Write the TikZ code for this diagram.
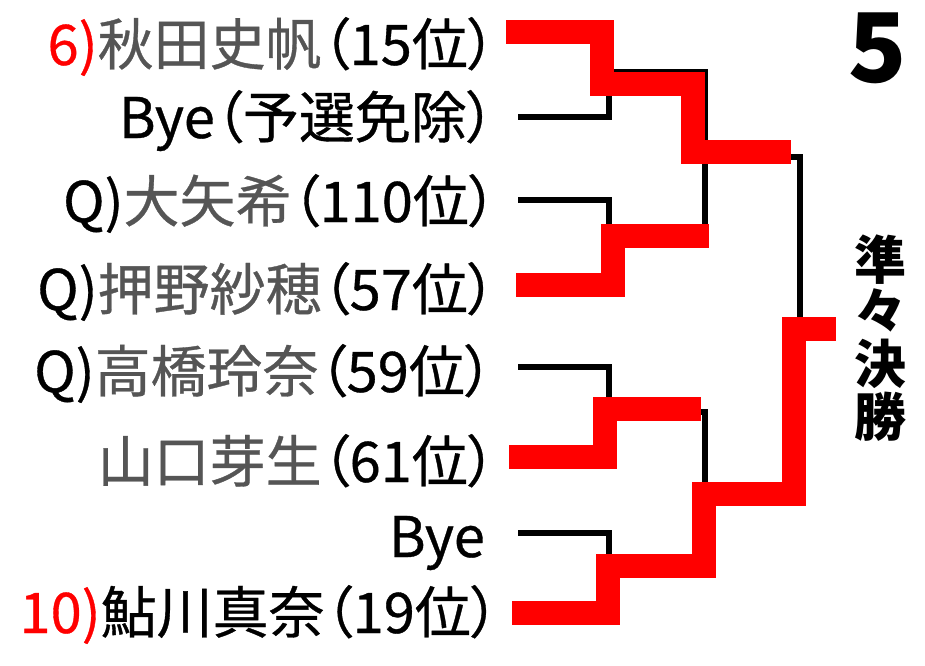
\documentclass[tikz,border=0pt]{standalone}
\usepackage{fontspec}
\newfontfamily\jp{Noto Sans CJK JP}[RawFeature=+palt,FakeBold=0.6]
\newfontfamily\jpb{Noto Sans CJK JP}[RawFeature=+palt]
\definecolor{nm}{RGB}{85,85,85}
\definecolor{win}{RGB}{255,0,0}
\begin{document}
\begin{tikzpicture}[x=1pt,y=-1pt,
  lbl/.style={anchor=base east, inner sep=0pt, font=\jp\fontsize{56}{58}\selectfont},
  vlbl/.style={anchor=base, inner sep=0pt, font=\jpb\bfseries\fontsize{52}{54}\selectfont},
  blk/.style={line width=5.5pt, black, line cap=butt, line join=miter},
  winline/.style={line width=24pt, win, line cap=butt, line join=miter}]
\useasboundingbox[fill=white] (0,0) rectangle (925,665);
% bracket coordinates
\coordinate (a1) at (518,31);
\coordinate (a2) at (518,117);
\coordinate (a3) at (518,200);
\coordinate (a4) at (518,285);
\coordinate (a5) at (518,367);
\coordinate (a6) at (518,457);
\coordinate (a7) at (518,533);
\coordinate (a8) at (518,613);
\coordinate (m1) at (609,72);
\coordinate (m2) at (609,242);
\coordinate (m3) at (609,412);
\coordinate (m4) at (609,574);
\coordinate (r1) at (705,157);
\coordinate (r2) at (705,493);
\coordinate (f) at (800,325);
\coordinate (fe) at (836,325);
% black tree
\draw[blk] (a1) -| (m1) |- (a2);
\draw[blk] (a3) -| (m2) |- (a4);
\draw[blk] (a5) -| (m3) |- (a6);
\draw[blk] (a7) -| (m4) |- (a8);
\draw[blk] (m1) -| (r1) |- (m2);
\draw[blk] (m3) -| (r2) |- (m4);
\draw[blk] (r1) -| (f) |- (r2);
\draw[blk] (f) -- (fe);
% red winner paths
\coordinate (s1) at (506,31.5);
\coordinate (c1) at (602,83.5);
\coordinate (c2) at (692.5,151.5);
\coordinate (e1) at (791,151.5);
\coordinate (s2) at (516,284.5);
\coordinate (c3) at (612.5,236);
\coordinate (e2) at (709,236);
\coordinate (s3) at (509,457);
\coordinate (c4) at (604.5,409);
\coordinate (e3) at (701,409);
\coordinate (s4) at (512,613);
\coordinate (c5) at (607.5,565.5);
\coordinate (c6) at (703.5,494);
\coordinate (c7) at (794,329);
\coordinate (e4) at (836,329);
\draw[winline] (s1) -| (c1) -| (c2) -- (e1);
\draw[winline] (s2) -| (c3) -- (e2);
\draw[winline] (s3) -| (c4) -- (e3);
\draw[winline] (s4) -| (c5) -| (c6) -| (c7) -- (e4);
% labels
\node[lbl] (n1) at (496,65) {\textcolor{red}{6)}\textcolor{nm}{秋田史帆}（15位）};
\node[lbl] (n2) at (495,138) {Bye（予選免除）};
\node[lbl] (n3) at (497,222) {Q)\textcolor{nm}{大矢希}（110位）};
\node[lbl] (n4) at (496,310) {Q)\textcolor{nm}{押野紗穂}（57位）};
\node[lbl] (n5) at (493,392) {Q)\textcolor{nm}{高橋玲奈}（59位）};
\node[lbl] (n6) at (496,482) {\textcolor{nm}{山口芽生}（61位）};
\node[lbl] (n7) at (485,557) {Bye};
\node[lbl] (n8) at (499,633) {\textcolor{red}{10)}鮎川真奈（19位）};
% round number and title
\node[anchor=base, inner sep=0pt, text height=70pt, text depth=0pt, font=\jpb\bfseries\fontsize{96}{96}\selectfont] (num) at (878,82) {5};
\node[vlbl] (v1) at (880,279) {準};
\node[vlbl] (v2) at (880,330) {々};
\node[vlbl] (v3) at (880,383) {決};
\node[vlbl] (v4) at (880,436) {勝};
\end{tikzpicture}
\end{document}
